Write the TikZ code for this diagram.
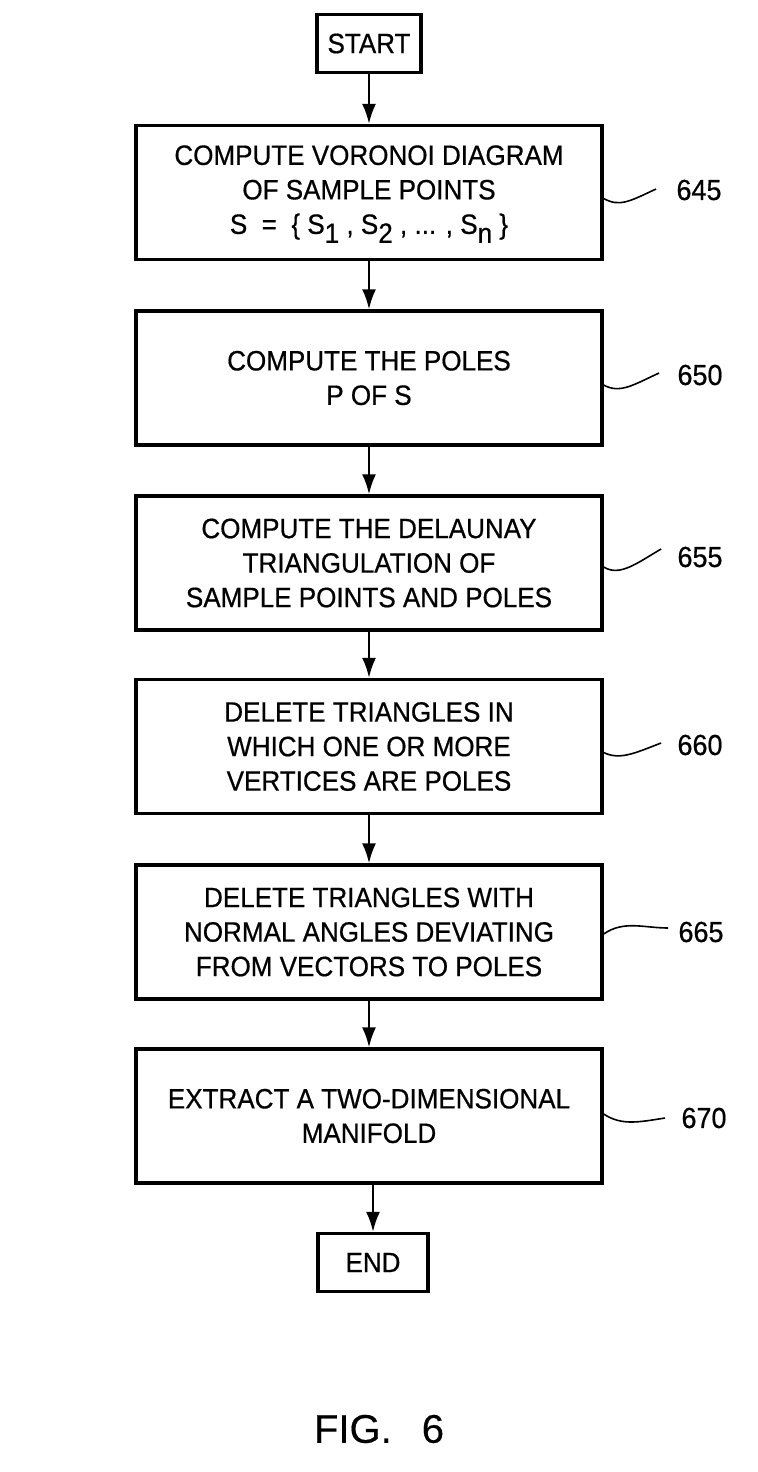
\documentclass[tikz,border=0pt]{standalone}
\usepackage{fontspec}
\setmainfont{Liberation Sans}[FakeStretch=0.93,FakeBold=0.6]
\newfontfamily\figfont{Liberation Sans}[FakeBold=0.4]
\usetikzlibrary{arrows.meta,calc}
\newcommand{\mysub}[1]{\raisebox{-4.5pt}[0pt][0pt]{\fontsize{14}{14}\selectfont #1}}
\begin{document}
\begin{tikzpicture}[x=0.5pt,y=-0.5pt,
  stepbox/.style={draw, line width=1.7pt, minimum width=233pt, minimum height=67pt,
    align=center, inner sep=0pt, font=\fontsize{14}{17.25}\selectfont},
  termbox/.style={draw, line width=1.7pt, minimum height=29pt, inner sep=0pt,
    font=\fontsize{14}{17.25}\selectfont},
  flow/.style={-{Latex[length=10pt,width=7pt]}, line width=1.1pt},
  leader/.style={line width=0.8pt},
  reflabel/.style={inner sep=0pt, font=\fontsize{14.5}{17.25}\selectfont}]
\useasboundingbox (0,0) rectangle (758,1472);

\node[termbox, minimum width=52pt] (start) at (369,43.5) {START};
\node[stepbox] (b645) at (369,192.5) {COMPUTE VORONOI DIAGRAM\\OF SAMPLE POINTS\\S\ \ =\ \ \{ S\mysub{1} , S\mysub{2} , ... , S\mysub{n} \}};
\node[stepbox] (b650) at (369,378) {COMPUTE THE POLES\\P OF S};
\node[stepbox] (b655) at (369,563) {COMPUTE THE DELAUNAY\\TRIANGULATION OF\\SAMPLE POINTS AND POLES};
\node[stepbox] (b660) at (369,746.5) {DELETE TRIANGLES IN\\WHICH ONE OR MORE\\VERTICES ARE POLES};
\node[stepbox] (b665) at (369,932) {DELETE TRIANGLES WITH\\NORMAL ANGLES DEVIATING\\FROM VECTORS TO POLES};
\node[stepbox] (b670) at (369,1116) {EXTRACT A TWO-DIMENSIONAL\\MANIFOLD};
\node[termbox, minimum width=55pt] (stop) at (373,1262.5) {END};

\draw[flow] (start.south) -- (start.south |- b645.north);
\draw[flow] (b645.south) -- (b650.north);
\draw[flow] (b650.south) -- (b655.north);
\draw[flow] (b655.south) -- (b660.north);
\draw[flow] (b660.south) -- (b665.north);
\draw[flow] (b665.south) -- (b670.north);
\draw[flow] (b670.south -| stop.north) -- (stop.north);

\node[reflabel] (l645) at (699,190) {645};
\node[reflabel] (l650) at (700,375) {650};
\node[reflabel] (l655) at (700,557) {655};
\node[reflabel] (l660) at (700,745) {660};
\node[reflabel] (l665) at (701,932) {665};
\node[reflabel] (l670) at (704,1118) {670};

\draw[leader] ($(b645.east)+(0,6)$) .. controls +(16,9) and +(-26,12) .. ($(l645.west)+(-20,-1)$);
\draw[leader] ($(b650.east)+(0,7)$) .. controls +(16,9) and +(-26,12) .. ($(l650.west)+(-18,-2)$);
\draw[leader] ($(b655.east)+(0,4)$) .. controls +(16,10) and +(-24,14) .. ($(l655.west)+(-16,-8)$);
\draw[leader] ($(b660.east)+(0,6)$) .. controls +(16,8) and +(-26,10) .. ($(l660.west)+(-16,-2)$);
\draw[leader] ($(b665.east)+(0,2)$) .. controls +(20,-14) and +(-24,0) .. ($(l665.west)+(-10,-4)$);
\draw[leader] ($(b670.east)+(0,-2)$) .. controls +(18,12) and +(-26,4) .. ($(l670.west)+(-16,0)$);

\node[inner sep=0pt, font=\figfont\fontsize{20}{22}\selectfont] (fig) at (379,1429) {FIG.\hspace{15pt}6};
\end{tikzpicture}
\end{document}
